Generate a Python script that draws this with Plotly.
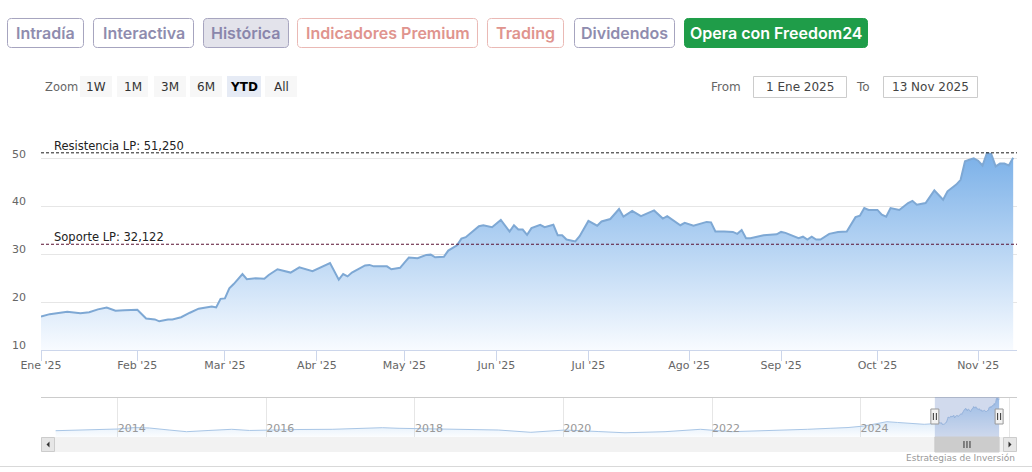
import plotly.graph_objects as go

W, H = 1032, 472

# ---------------- data ----------------
ytd_dates = [
    "2025-01-02", "2025-01-06", "2025-01-10", "2025-01-15", "2025-01-17", "2025-01-21",
    "2025-01-23", "2025-01-27", "2025-01-29", "2025-02-03", "2025-02-05", "2025-02-07",
    "2025-02-10", "2025-02-12", "2025-02-13", "2025-02-17", "2025-02-19", "2025-02-21",
    "2025-02-26", "2025-02-27", "2025-02-28", "2025-03-03", "2025-03-04", "2025-03-05",
    "2025-03-07", "2025-03-10", "2025-03-12", "2025-03-14", "2025-03-17", "2025-03-19",
    "2025-03-24", "2025-03-26", "2025-03-31", "2025-04-02", "2025-04-04", "2025-04-08",
    "2025-04-09", "2025-04-10", "2025-04-11", "2025-04-16", "2025-04-17", "2025-04-22",
    "2025-04-25", "2025-04-28", "2025-04-30", "2025-05-02", "2025-05-05", "2025-05-07",
    "2025-05-09", "2025-05-12", "2025-05-13", "2025-05-15", "2025-05-16", "2025-05-20",
    "2025-05-21", "2025-05-22", "2025-05-27", "2025-05-28", "2025-05-30", "2025-06-03",
    "2025-06-05", "2025-06-06", "2025-06-09", "2025-06-10", "2025-06-11", "2025-06-12",
    "2025-06-16", "2025-06-17", "2025-06-19", "2025-06-20", "2025-06-23", "2025-06-24",
    "2025-06-26", "2025-06-27", "2025-07-01", "2025-07-03", "2025-07-04", "2025-07-08",
    "2025-07-10", "2025-07-11", "2025-07-15", "2025-07-17", "2025-07-21", "2025-07-22",
    "2025-07-24", "2025-07-25", "2025-07-30", "2025-07-31", "2025-08-04", "2025-08-07",
    "2025-08-08", "2025-08-11", "2025-08-13", "2025-08-15", "2025-08-18", "2025-08-19",
    "2025-08-20", "2025-08-21", "2025-08-26", "2025-08-29", "2025-09-01", "2025-09-02",
    "2025-09-05", "2025-09-08", "2025-09-09", "2025-09-10", "2025-09-11", "2025-09-12",
    "2025-09-16", "2025-09-18", "2025-09-22", "2025-09-24", "2025-09-25", "2025-09-26",
    "2025-09-29", "2025-10-01", "2025-10-02", "2025-10-03", "2025-10-06", "2025-10-08",
    "2025-10-10", "2025-10-13", "2025-10-14", "2025-10-16", "2025-10-20", "2025-10-22",
    "2025-10-23", "2025-10-27", "2025-10-28", "2025-10-29", "2025-10-30", "2025-10-31",
    "2025-11-03", "2025-11-04", "2025-11-05", "2025-11-06", "2025-11-07", "2025-11-10",
    "2025-11-11", "2025-11-12", "2025-11-13",
]
ytd_close = [
    17.0, 17.5, 18.0, 17.7, 17.9, 18.5,
    18.9, 18.2, 18.3, 18.4, 16.6, 16.4,
    16.0, 16.4, 16.4, 16.85, 17.8, 18.65,
    19.1, 18.9, 20.7, 20.8, 22.9, 23.8,
    25.9, 24.8, 25.0, 24.9, 25.7, 26.9,
    26.2, 27.3, 26.5, 27.3, 28.2, 24.7,
    25.9, 25.4, 26.2, 27.7, 27.8, 27.5,
    27.5, 26.9, 27.2, 28.3, 29.35, 29.2,
    29.9, 29.95, 29.4, 29.5, 30.8, 31.9,
    33.3, 33.6, 35.9, 36.1, 35.7, 37.2,
    34.8, 36.1, 35.2, 35.2, 34.1, 35.5,
    36.2, 35.7, 36.2, 34.0, 34.0, 33.1,
    32.7, 33.8, 37.0, 36.0, 36.9, 37.4,
    39.5, 37.9, 39.1, 38.0, 38.85, 39.2,
    37.5, 38.0, 36.1, 36.6, 36.0, 36.8,
    36.7, 34.8, 34.8, 34.7, 34.3, 35.1,
    33.4, 33.4, 34.0, 34.2, 34.7, 34.5,
    33.4, 33.7, 33.1, 33.7, 33.1, 33.1,
    34.3, 34.7, 34.8, 37.8, 38.1, 39.7,
    39.3, 39.3, 38.3, 37.9, 39.7, 39.3,
    40.75, 41.2, 40.4, 40.75, 43.4, 41.45,
    43.2, 44.6, 45.6, 49.5, 49.8, 50.1,
    49.6, 48.6, 51.2, 51.0, 48.4, 49.0,
    49.0, 48.6, 50.2,
]

# long history shown in the navigator (before 2025)
hist_dates = [
    "2013-03-01", "2013-06-15", "2013-10-01", "2014-01-01", "2014-03-25", "2014-06-05",
    "2014-09-10", "2014-12-05", "2015-03-25", "2015-07-15", "2015-10-10", "2016-01-01",
    "2016-06-10", "2016-11-20", "2017-04-01", "2017-07-25", "2017-10-15", "2018-01-05",
    "2018-04-25", "2018-09-05", "2019-02-15", "2019-07-25", "2019-10-20", "2020-01-10",
    "2020-06-20", "2020-10-30", "2021-05-15", "2021-11-05", "2022-04-05", "2022-08-15",
    "2022-12-05", "2023-04-15", "2023-08-05", "2023-11-01", "2024-01-20", "2024-03-25",
    "2024-05-10", "2024-07-01", "2024-08-20", "2024-11-10", "2024-12-20",
]
hist_close = [
    8.2, 9.1, 10.0, 10.4, 12.3, 11.7,
    9.1, 6.9, 8.5, 10.0, 8.5, 9.1,
    9.75, 10.0, 11.0, 12.1, 11.3, 10.8,
    10.4, 10.0, 9.1, 6.1, 7.8, 9.1,
    7.1, 5.5, 6.9, 10.0, 6.9, 7.8,
    9.1, 10.0, 11.3, 12.3, 14.3, 17.5,
    19.9, 18.9, 17.8, 16.5, 17.2,
]

month_ticks = ["2025-01-02", "2025-02-03", "2025-03-03", "2025-04-01", "2025-05-02", "2025-06-02",
               "2025-07-01", "2025-08-01", "2025-09-01", "2025-10-01", "2025-11-03"]
month_labels = ["Ene '25", "Feb '25", "Mar '25", "Abr '25", "May '25", "Jun '25",
                "Jul '25", "Ago '25", "Sep '25", "Oct '25", "Nov '25"]
y_ticks = [10, 20, 30, 40, 50, 60]
y_labels = ["10", "20", "30", "40", "50", ""]
holidays = ["2025-01-01", "2025-04-18", "2025-04-21", "2025-05-01"]

resistance = 51.25
support = 32.122
resistance_label = "Resistencia LP: 51,250"
support_label = "Soporte LP: 32,122"

period_start = "2025-01-01"
period_end = "2025-11-13"
from_text = "1 Ene 2025"
to_text = "13 Nov 2025"

top_buttons = ["Intradía", "Interactiva", "Histórica", "Indicadores Premium", "Trading",
               "Dividendos", "Opera con Freedom24"]
zoom_buttons = ["1W", "1M", "3M", "6M", "YTD", "All"]
credit = "Estrategias de Inversión"

# ---------------- helpers (pixel -> paper) ----------------
def px(x):
    return x / W


def py(y):
    return 1 - y / H


def rrect_path(x0, y0, x1, y1, r):
    pts = [
        ("M", (x0 + r, y0)), ("L", (x1 - r, y0)), ("Q", (x1, y0, x1, y0 + r)),
        ("L", (x1, y1 - r)), ("Q", (x1, y1, x1 - r, y1)), ("L", (x0 + r, y1)),
        ("Q", (x0, y1, x0, y1 - r)), ("L", (x0, y0 + r)), ("Q", (x0, y0, x0 + r, y0)),
    ]
    s = ""
    for cmd, c in pts:
        if len(c) == 2:
            s += f"{cmd}{px(c[0]):.5f},{py(c[1]):.5f} "
        else:
            s += f"{cmd}{px(c[0]):.5f},{py(c[1]):.5f} {px(c[2]):.5f},{py(c[3]):.5f} "
    return s + "Z"


shapes = []
annotations = []
BTN_FONT = "Inter"
CH_FONT = "DejaVu Sans"

# ---------------- top navigation buttons ----------------
purple_txt, purple_bd = "#8f8cae", "#a6a4bf"
salmon_txt, salmon_bd = "#e0948e", "#eab9b5"
btn_style = [
    (7, 84, purple_txt, purple_bd, "white"),
    (93, 194, purple_txt, purple_bd, "white"),
    (203, 289, "#8a86ab", "#a6a4bf", "#e3e3eb"),
    (297, 478, salmon_txt, salmon_bd, "white"),
    (487, 564, salmon_txt, salmon_bd, "white"),
    (574, 675, purple_txt, purple_bd, "white"),
    (684, 868, "white", "#1f9d49", "#1f9d49"),
]
for label, (x0, x1, tc, bc, fc) in zip(top_buttons, btn_style):
    shapes.append(dict(type="path", xref="paper", yref="paper", path=rrect_path(x0 + 0.5, 18.5, x1 - 0.5, 47.5, 4),
                       line=dict(color=bc, width=1), fillcolor=fc, layer="below"))
    annotations.append(dict(x=px((x0 + x1) / 2), y=py(33), xref="paper", yref="paper", text=label,
                            showarrow=False, xanchor="center", yanchor="middle",
                            font=dict(family=BTN_FONT, size=16, color=tc, weight=600)))

# ---------------- range selector ----------------
annotations.append(dict(x=px(43), y=py(86.5), xref="paper", yref="paper", text="Zoom", showarrow=False,
                        xanchor="left", yanchor="middle", font=dict(family=CH_FONT, size=11.5, color="#666666")))
zb = [(80, 112), (117, 148), (154, 186), (190, 222), (227, 261), (265, 297)]
for label, (x0, x1) in zip(zoom_buttons, zb):
    sel = label == "YTD"
    shapes.append(dict(type="rect", xref="paper", yref="paper", x0=px(x0), x1=px(x1), y0=py(97), y1=py(76),
                       line=dict(width=0), fillcolor="#e6ebf5" if sel else "#f7f7f7", layer="below"))
    annotations.append(dict(x=px((x0 + x1) / 2), y=py(86.5), xref="paper", yref="paper", text=f"<b>{label}</b>" if sel else label,
                            showarrow=False, xanchor="center", yanchor="middle",
                            font=dict(family=CH_FONT, size=12, color="#000000" if sel else "#333333")))

annotations.append(dict(x=px(743), y=py(86.5), xref="paper", yref="paper", text="From", showarrow=False,
                        xanchor="right", yanchor="middle", font=dict(family=CH_FONT, size=12, color="#666666")))
annotations.append(dict(x=px(872), y=py(86.5), xref="paper", yref="paper", text="To", showarrow=False,
                        xanchor="right", yanchor="middle", font=dict(family=CH_FONT, size=12, color="#666666")))
for (x0, x1), t in [((753, 847), from_text), ((883, 978), to_text)]:
    shapes.append(dict(type="rect", xref="paper", yref="paper", x0=px(x0 + 0.5), x1=px(x1 - 0.5), y0=py(97.5), y1=py(76.5),
                       line=dict(width=1, color="#cccccc"), fillcolor="white", layer="below"))
    annotations.append(dict(x=px((x0 + x1) / 2), y=py(87), xref="paper", yref="paper", text=t, showarrow=False,
                            xanchor="center", yanchor="middle", font=dict(family=CH_FONT, size=12, color="#444444")))

# ---------------- support / resistance ----------------
shapes.append(dict(type="line", xref="x domain", yref="y", x0=0, x1=1, y0=resistance, y1=resistance,
                   line=dict(color="#1c1c1c", width=1, dash="3px,2px")))
shapes.append(dict(type="line", xref="x domain", yref="y", x0=0, x1=1, y0=support, y1=support,
                   line=dict(color="#5a1233", width=1, dash="3px,2px")))
annotations.append(dict(x=px(52), y=resistance, xref="paper", yref="y", text=resistance_label, showarrow=False,
                        xanchor="left", yanchor="bottom", yshift=-2,
                        font=dict(family=CH_FONT, size=11.5, color="#222222")))
annotations.append(dict(x=px(52), y=support, xref="paper", yref="y", text=support_label, showarrow=False,
                        xanchor="left", yanchor="bottom", yshift=-2,
                        font=dict(family=CH_FONT, size=11.5, color="#222222")))

# ---------------- navigator decorations ----------------
shapes.append(dict(type="line", xref="paper", yref="paper", x0=px(41), x1=px(1017), y0=py(397.5), y1=py(397.5),
                   line=dict(color="#cccccc", width=1)))
shapes.append(dict(type="rect", xref="x2", yref="paper", x0=period_start, x1=period_end, y0=py(437), y1=py(397),
                   line=dict(width=0), fillcolor="rgba(102,133,194,0.3)"))
for d in [period_start, period_end]:
    shapes.append(dict(type="rect", xref="x2", yref="paper", xsizemode="pixel", xanchor=d, x0=-4, x1=4,
                       y0=py(424), y1=py(409), line=dict(color="#999999", width=1), fillcolor="#f2f2f2"))
    for dx in (-1.5, 1.5):
        shapes.append(dict(type="line", xref="x2", yref="paper", xsizemode="pixel", xanchor=d, x0=dx, x1=dx,
                           y0=py(420), y1=py(413), line=dict(color="#333333", width=1)))
# scrollbar
shapes.append(dict(type="rect", xref="paper", yref="paper", x0=px(41), x1=px(1017), y0=py(452), y1=py(437),
                   line=dict(width=0), fillcolor="#f2f2f2"))
shapes.append(dict(type="rect", xref="x2", yref="paper", x0=period_start, x1=period_end, y0=py(452), y1=py(437),
                   line=dict(color="#cccccc", width=1), fillcolor="#cccccc"))
for dx in (-3, 0, 3):
    shapes.append(dict(type="line", xref="x2", yref="paper", xsizemode="pixel", xanchor="2025-06-08", x0=dx, x1=dx,
                       y0=py(448), y1=py(441), line=dict(color="#333333", width=1)))
for x0, x1 in [(41, 55), (1003, 1017)]:
    shapes.append(dict(type="rect", xref="paper", yref="paper", x0=px(x0 + 0.5), x1=px(x1 - 0.5), y0=py(451.5), y1=py(437.5),
                       line=dict(color="#cccccc", width=1), fillcolor="#e6e6e6"))
shapes.append(dict(type="path", xref="paper", yref="paper",
                   path=f"M{px(46.5)},{py(444.5)} L{px(49.5)},{py(441.5)} L{px(49.5)},{py(447.5)} Z",
                   fillcolor="#333333", line=dict(width=0)))
shapes.append(dict(type="path", xref="paper", yref="paper",
                   path=f"M{px(1011.5)},{py(444.5)} L{px(1008.5)},{py(441.5)} L{px(1008.5)},{py(447.5)} Z",
                   fillcolor="#333333", line=dict(width=0)))
# bottom separator
shapes.append(dict(type="line", xref="paper", yref="paper", x0=0, x1=1, y0=py(466.5), y1=py(466.5),
                   line=dict(color="#d9d9d9", width=1)))
annotations.append(dict(x=px(1017), y=py(458), xref="paper", yref="paper", text=credit, showarrow=False,
                        xanchor="right", yanchor="middle", font=dict(family=CH_FONT, size=9, color="#999999")))

# ---------------- traces ----------------
fig = go.Figure()
fig.add_trace(go.Scatter(
    x=ytd_dates, y=ytd_close, mode="lines", xaxis="x", yaxis="y",
    line=dict(color="#7ea8d4", width=2), fill="tozeroy",
    fillgradient=dict(type="vertical", start=10, stop=resistance,
                      colorscale=[[0, "rgb(248,251,255)"], [1, "rgb(122,176,232)"]]),
    hoverinfo="skip", showlegend=False))
fig.add_trace(go.Scatter(
    x=hist_dates + ytd_dates, y=hist_close + ytd_close, mode="lines", xaxis="x2", yaxis="y2",
    line=dict(color="#a9c6e6", width=1), fill="tozeroy",
    fillgradient=dict(type="vertical", start=0, stop=52,
                      colorscale=[[0, "rgba(124,181,236,0.03)"], [1, "rgba(124,181,236,0.6)"]]),
    hoverinfo="skip", showlegend=False))

fig.update_layout(
    width=W, height=H, margin=dict(l=0, r=0, t=0, b=0),
    paper_bgcolor="white", plot_bgcolor="white", template="none",
    showlegend=False, shapes=shapes, annotations=annotations,
    font=dict(family=CH_FONT, size=11, color="#666666"),
    xaxis=dict(domain=[px(41), px(1017)], anchor="y", type="date",
               range=["2025-01-02", "2025-11-13 21:00"],
               rangebreaks=[dict(bounds=["sat", "mon"]), dict(values=holidays)],
               tickmode="array", tickvals=month_ticks, ticktext=month_labels,
               showgrid=False, zeroline=False, showline=True, linecolor="#ccd6eb", linewidth=1,
               ticks="outside", ticklen=10, tickcolor="#ccd6eb", tickwidth=1, ticklabelstandoff=-5,
               tickfont=dict(family=CH_FONT, size=11, color="#666666"), automargin=False),
    yaxis=dict(domain=[py(350), py(111)], anchor="x", range=[10, 60],
               tickmode="array", tickvals=y_ticks, ticktext=y_labels,
               showgrid=True, gridcolor="#e6e6e6", gridwidth=1, zeroline=False, showline=False,
               ticks="", ticklabelstandoff=14, ticklabelshift=-5,
               tickfont=dict(family=CH_FONT, size=11, color="#666666"), automargin=False),
    xaxis2=dict(domain=[px(41), px(1017)], anchor="y2", type="date",
                range=["2012-12-19", "2026-02-09"], dtick="M24", tick0="2014-01-01", tickformat="%Y",
                showgrid=True, gridcolor="#e6e6e6", zeroline=False, showline=False, ticks="",
                ticklabelposition="inside right", ticklabelstandoff=-3,
                tickfont=dict(family=CH_FONT, size=11, color="#999999"), automargin=False),
    yaxis2=dict(domain=[py(437), py(397)], anchor="x2", range=[0, 52], showgrid=False,
                showticklabels=False, zeroline=False, ticks="", automargin=False),
)

fig.write_html("out.html", config={"displayModeBar": False},
               post_script="document.body.style.margin='0';document.body.style.padding='0';")
